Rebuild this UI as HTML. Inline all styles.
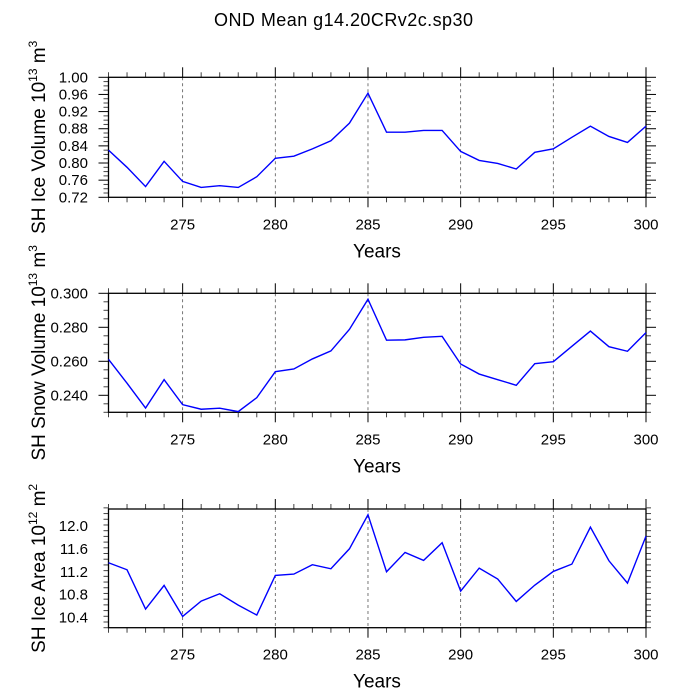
<!DOCTYPE html>
<html><head><meta charset="utf-8"><style>
html,body{margin:0;padding:0;background:#fff;}
svg{display:block;font-family:"Liberation Sans",Arial,sans-serif;}
</style></head><body>
<svg id="chart" width="687" height="689" viewBox="0 0 687 689" xmlns="http://www.w3.org/2000/svg">
<text x="343.5" y="26" font-size="18" text-anchor="middle" textLength="259">OND Mean g14.20CRv2c.sp30</text>
</svg>
<script>
const years = [271,272,273,274,275,276,277,278,279,280,281,282,283,284,285,286,287,288,289,290,291,292,293,294,295,296,297,298,299,300];
const iceVolume = [0.830,0.790,0.745,0.804,0.757,0.743,0.747,0.743,0.768,0.811,0.816,0.833,0.852,0.893,0.963,0.872,0.872,0.876,0.876,0.827,0.806,0.799,0.786,0.825,0.833,0.860,0.886,0.862,0.848,0.886];
const snowVolume = [0.2612,0.2471,0.2325,0.2492,0.2345,0.2318,0.2324,0.2304,0.2386,0.2539,0.2555,0.2614,0.2661,0.2788,0.2965,0.2724,0.2726,0.2741,0.2747,0.2584,0.2525,0.2492,0.2459,0.2586,0.2598,0.2688,0.2778,0.2686,0.2659,0.2769];
const iceArea = [11.358,11.235,10.546,10.961,10.418,10.686,10.815,10.616,10.441,11.136,11.159,11.323,11.253,11.603,12.199,11.200,11.539,11.399,11.708,10.861,11.264,11.072,10.680,10.966,11.206,11.334,11.982,11.393,11.001,11.825];
const xTickLabels = ["275","280","285","290","295","300"];
const iceVolTicks = ["0.72","0.76","0.80","0.84","0.88","0.92","0.96","1.00"];
const snowVolTicks = ["0.240","0.260","0.280","0.300"];
const iceAreaTicks = ["10.4","10.8","11.2","11.6","12.0"];

const NS = "http://www.w3.org/2000/svg";
const svg = document.getElementById('chart');
function mk(tag, attrs, parent){
  const e = document.createElementNS(NS, tag);
  for (const k in attrs) e.setAttribute(k, attrs[k]);
  (parent||svg).appendChild(e);
  return e;
}
const X0 = 108.5, X1 = 646;
const xScale = v => X0 + (v - 271) * (X1 - X0) / (300 - 271);

function panel(name, top, bot, ymin, ymax, majorStep, minorStep, ticks, values, titleParts){
  const g = mk('g', {});
  
  
  const yScale = v => bot - (v - ymin) * (bot - top) / (ymax - ymin);
  for (let yr = 275; yr <= 295; yr += 5) {
    const l = mk('line', {x1: xScale(yr), x2: xScale(yr), y1: top, y2: bot, stroke: '#555', 'stroke-width': 0.8, 'stroke-dasharray': '3,3'}, g);
    
    
  }
  for (let yr = 271; yr <= 300; yr++) {
    const major = yr % 5 === 0;
    const len = major ? 10 : 5;
    const col = major ? '#000' : '#444';
    mk('line', {x1: xScale(yr), x2: xScale(yr), y1: bot, y2: bot + len, stroke: col, 'stroke-width': 1}, g);
    mk('line', {x1: xScale(yr), x2: xScale(yr), y1: top, y2: top - len, stroke: col, 'stroke-width': 1}, g);
  }
  xTickLabels.forEach(s => {
    const t = mk('text', {x: xScale(+s), y: bot + 32, 'font-size': 15, 'text-anchor': 'middle'}, g);
    t.textContent = s;
    
    
  });
  const n = Math.round((ymax - ymin) / minorStep);
  for (let i = 0; i <= n; i++) {
    const v = ymin + i * minorStep;
    const y = yScale(v);
    const isMajor = ticks.some(s => Math.abs(+s - v) < minorStep / 10);
    const len = isMajor ? 10 : 5;
    const col = isMajor ? '#000' : '#444';
    mk('line', {x1: X0, x2: X0 - len, y1: y, y2: y, stroke: col, 'stroke-width': 1}, g);
    mk('line', {x1: X1, x2: X1 + len, y1: y, y2: y, stroke: col, 'stroke-width': 1}, g);
  }
  ticks.forEach(s => {
    const t = mk('text', {x: 88, y: yScale(+s) + 5, 'font-size': 15, 'text-anchor': 'end'}, g);
    t.textContent = s;
    
    
  });
  const fr = mk('rect', {x: X0, y: top, width: X1 - X0, height: bot - top, fill: 'none', stroke: '#000', 'stroke-width': 1.3}, g);
  
  
  const pts = values.map((v, i) => xScale(years[i]).toFixed(2) + ',' + yScale(v).toFixed(2)).join(' ');
  const pl = mk('polyline', {points: pts, fill: 'none', stroke: '#0000ff', 'stroke-width': 1.4}, g);
  
  
  const xt = mk('text', {x: 377, y: bot + 60, 'font-size': 19, 'text-anchor': 'middle'}, g);
  xt.textContent = 'Years';
  
  
  const cy = (top + bot) / 2;
  const yt = mk('text', {x: 0, y: 0, 'font-size': 19, 'text-anchor': 'middle', transform: 'translate(45,' + cy + ') rotate(-90)'}, g);
  
  
  titleParts.forEach(p => {
    const ts = mk('tspan', {}, yt);
    if (p.sup) { ts.setAttribute('font-size', 12); ts.setAttribute('dy', -8); }
    else if (p.down) { ts.setAttribute('dy', 8); }
    ts.textContent = p.t;
  });
}

panel('ice-volume', 77.3, 197.3, 0.72, 1.00, 0.04, 0.01, iceVolTicks, iceVolume,
  [{t:'SH Ice Volume 10'},{t:'13',sup:1},{t:' m',down:1},{t:'3',sup:1}]);
panel('snow-volume', 293.3, 412.3, 0.230, 0.300, 0.02, 0.005, snowVolTicks, snowVolume,
  [{t:'SH Snow Volume 10'},{t:'13',sup:1},{t:' m',down:1},{t:'3',sup:1}]);
panel('ice-area', 509, 627.7, 10.22, 12.30, 0.4, 0.1, iceAreaTicks, iceArea,
  [{t:'SH Ice Area 10'},{t:'12',sup:1},{t:' m',down:1},{t:'2',sup:1}]);
</script>
</body></html>
